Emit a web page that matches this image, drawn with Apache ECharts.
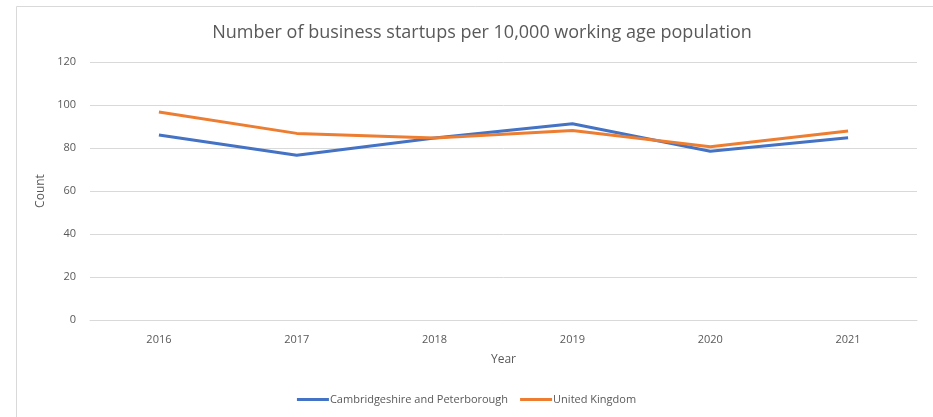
<!DOCTYPE html>
<html>
<head>
<meta charset="utf-8">
<script src="https://cdn.jsdelivr.net/npm/echarts@6/dist/echarts.min.js"></script>
<style>
  html, body { margin: 0; padding: 0; background: #fff; }
  #main { width: 933px; height: 417px; }
</style>
</head>
<body>
<div id="main"></div>
<script>
var years = ['2016', '2017', '2018', '2019', '2020', '2021'];
var cambsPeterborough = [86.0, 76.6, 84.7, 91.3, 78.5, 84.8];
var unitedKingdom = [96.7, 86.8, 84.7, 88.1, 80.6, 87.9];

var myChart = echarts.init(document.getElementById('main'));
var font = 'Open Sans';

option = {
  backgroundColor: '#fff',
  animation: false,
  graphic: [{
    type: 'rect',
    shape: { x: 16.5, y: 6.5, width: 1000, height: 1000 },
    style: { fill: 'none', stroke: '#d9d9d9', lineWidth: 1 },
    silent: true
  }],
  title: {
    text: 'Number of business startups per 10,000 working age population',
    left: 477,
    textAlign: 'center',
    top: 19,
    textStyle: { fontFamily: font, fontSize: 18, fontWeight: 'normal', color: '#595959' }
  },
  legend: {
    bottom: 7,
    left: 'center',
    itemWidth: 32,
    itemHeight: 3,
    itemGap: 12,
    icon: 'rect',
    textStyle: { fontFamily: font, fontSize: 11, color: '#595959', padding: [0, 0, 0, -4] },
    data: ['Cambridgeshire and Peterborough', 'United Kingdom']
  },
  grid: { left: 90, right: 16, top: 62, bottom: 97 },
  xAxis: {
    type: 'category',
    data: years,
    name: 'Year',
    nameLocation: 'middle',
    nameGap: 34,
    nameTextStyle: { fontFamily: font, fontSize: 12, color: '#595959' },
    axisLine: { lineStyle: { color: '#d9d9d9' } },
    axisTick: { show: false },
    axisLabel: { fontFamily: font, fontSize: 11, color: '#595959', margin: 14 }
  },
  yAxis: {
    type: 'value',
    min: 0,
    max: 120,
    interval: 20,
    name: 'Count',
    nameLocation: 'middle',
    nameGap: 38,
    nameTextStyle: { fontFamily: font, fontSize: 12, color: '#595959' },
    axisLine: { show: false },
    axisTick: { show: false },
    axisLabel: { fontFamily: font, fontSize: 11, color: '#595959', margin: 14 },
    splitLine: { lineStyle: { color: '#d9d9d9', width: 1 } }
  },
  series: [
    {
      name: 'Cambridgeshire and Peterborough',
      type: 'line',
      data: cambsPeterborough,
      symbol: 'none',
      color: '#4472C4',
      lineStyle: { width: 3, color: '#4472C4' }
    },
    {
      name: 'United Kingdom',
      type: 'line',
      data: unitedKingdom,
      symbol: 'none',
      color: '#ED7D31',
      lineStyle: { width: 3, color: '#ED7D31' }
    }
  ]
};
myChart.setOption(option);
</script>
</body>
</html>
